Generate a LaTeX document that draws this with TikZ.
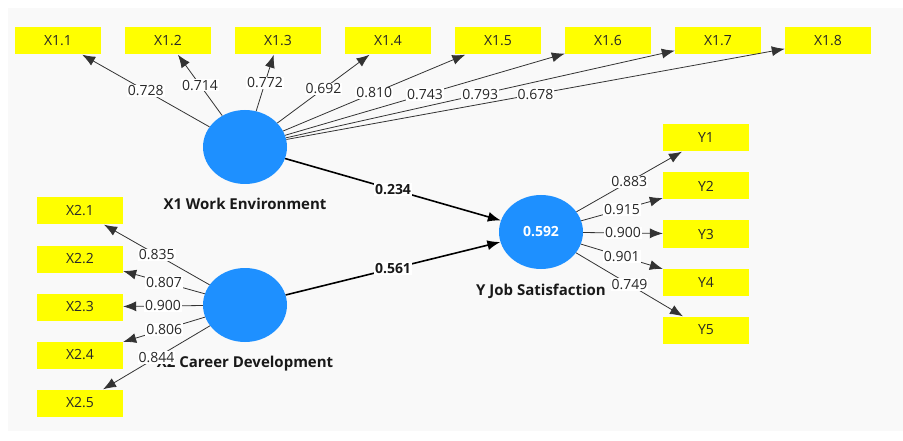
\documentclass[tikz,border=0pt]{standalone}
\usepackage{fontspec}
\setmainfont{Open Sans}
\usetikzlibrary{arrows.meta}
\usetikzlibrary{shapes.geometric}
\usetikzlibrary{positioning}
\definecolor{plsblue}{RGB}{30,144,255}
\definecolor{plsyellow}{RGB}{255,255,0}
\definecolor{plsgray}{RGB}{249,249,249}
\definecolor{plstext}{RGB}{40,40,40}

\begin{document}
\begin{tikzpicture}[x = 1pt, y = -1pt, on grid, node distance = 110pt,
	ind/.style = {rectangle, fill = plsyellow, minimum width = 86pt, minimum height = 27pt, inner sep = 0pt, text = plstext, font = \fontsize{14}{14}\selectfont},
	lv/.style = {ellipse, fill = plsblue, minimum width = 84pt, minimum height = 74pt, inner sep = 0pt},
	lvname/.style = {font = \bfseries\fontsize{15}{15}\selectfont, text = black!90},
	load/.style = {fill = white, inner sep = 1pt, text = plstext, font = \fontsize{14}{14}\selectfont},
	path/.style = {fill = white, inner sep = 1pt, text = black!90, font = \bfseries\fontsize{14}{14}\selectfont},
	outer/.style = {draw = black!80, line width = 0.8pt, -{Latex[length = 13pt, width = 10pt]}},
	inner/.style = {draw = black, line width = 1.6pt, -{Latex[length = 13pt, width = 10pt]}}]
	\useasboundingbox (0,0) rectangle (903,441);
	\fill[white] (0,0) rectangle (903,441);
	\fill[plsgray] (8,8) rectangle (903,431);

	% constructs
	\node[lv] (X1) at (245,147) {};
	\node[lv] (X2) at (245,305) {};
	\node[lv] (Y) at (541,232) {\textcolor{white}{\bfseries\fontsize{14}{14}\selectfont 0.592}};
	\node[lvname] (X1name) [below = 57pt of X1] {X1 Work Environment};
	\node[lvname] (X2name) [below = 59pt of X2] {X2 Career Development};
	\node[lvname] (Yname) [below = 59pt of Y] {Y Job Satisfaction};

	% indicators of X1
	\node[ind] (X11) at (58,41) {X1.1};
	\node[ind] (X12) [right = of X11] {X1.2};
	\node[ind] (X13) [right = of X12] {X1.3};
	\node[ind] (X14) [right = of X13] {X1.4};
	\node[ind] (X15) [right = of X14] {X1.5};
	\node[ind] (X16) [right = of X15] {X1.6};
	\node[ind] (X17) [right = of X16] {X1.7};
	\node[ind] (X18) [right = of X17] {X1.8};

	% indicators of X2
	\node[ind] (X21) at (80,211) {X2.1};
	\node[ind] (X22) [node distance = 48pt, below = of X21] {X2.2};
	\node[ind] (X23) [node distance = 48pt, below = of X22] {X2.3};
	\node[ind] (X24) [node distance = 48pt, below = of X23] {X2.4};
	\node[ind] (X25) [node distance = 48pt, below = of X24] {X2.5};

	% indicators of Y
	\node[ind] (Y1) at (706,138) {Y1};
	\node[ind] (Y2) [node distance = 48pt, below = of Y1] {Y2};
	\node[ind] (Y3) [node distance = 48pt, below = of Y2] {Y3};
	\node[ind] (Y4) [node distance = 48pt, below = of Y3] {Y4};
	\node[ind] (Y5) [node distance = 48pt, below = of Y4] {Y5};

	% outer loadings
	\draw[outer] (X1) -- node[load]{0.728} (X11);
	\draw[outer] (X1) -- node[load]{0.714} (X12);
	\draw[outer] (X1) -- node[load]{0.772} (X13);
	\draw[outer] (X1) -- node[load]{0.692} (X14);
	\draw[outer] (X1) -- node[load]{0.810} (X15);
	\draw[outer] (X1) -- node[load]{0.743} (X16);
	\draw[outer] (X1) -- node[load]{0.793} (X17);
	\draw[outer] (X1) -- node[load]{0.678} (X18);
	\draw[outer] (X2) -- node[load]{0.835} (X21);
	\draw[outer] (X2) -- node[load]{0.807} (X22);
	\draw[outer] (X2) -- node[load]{0.900} (X23);
	\draw[outer] (X2) -- node[load]{0.806} (X24);
	\draw[outer] (X2) -- node[load]{0.844} (X25);
	\draw[outer] (Y) -- node[load]{0.883} (Y1);
	\draw[outer] (Y) -- node[load]{0.915} (Y2);
	\draw[outer] (Y) -- node[load]{0.900} (Y3);
	\draw[outer] (Y) -- node[load]{0.901} (Y4);
	\draw[outer] (Y) -- node[load]{0.749} (Y5);

	% path coefficients
	\draw[inner] (X1) -- node[path]{0.234} (Y);
	\draw[inner] (X2) -- node[path]{0.561} (Y);
\end{tikzpicture}
\end{document}
